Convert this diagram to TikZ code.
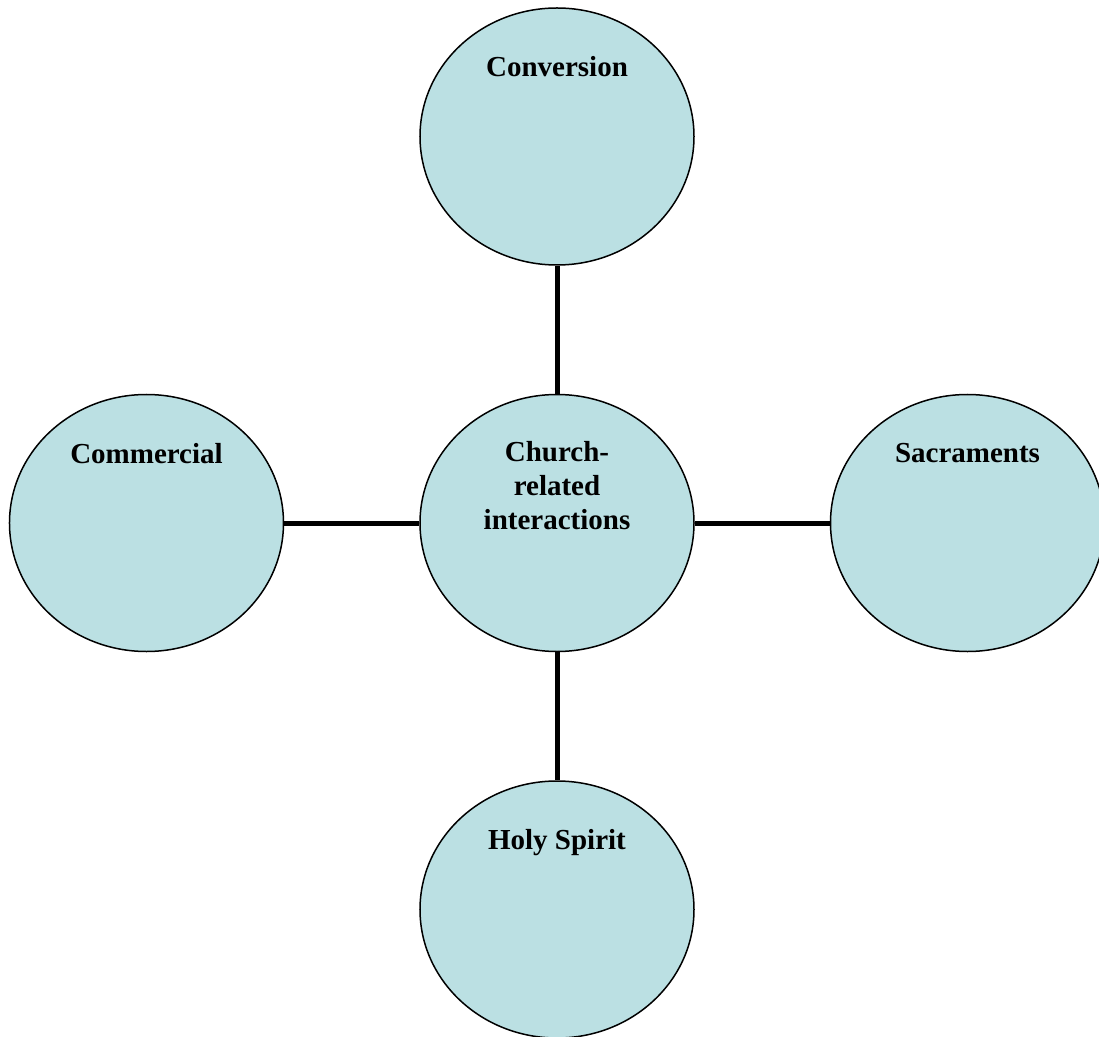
\documentclass[tikz,border=0pt]{standalone}
\usepackage{fontspec}
\setmainfont{Liberation Serif}
\usepackage{tikz}
\usetikzlibrary{shapes.geometric,positioning}
\definecolor{bubblefill}{RGB}{187,224,227}

\begin{document}
\begin{tikzpicture}[align=center,
        node distance=128pt and 135pt,
        bubble/.style={ellipse, draw, line width=1.5pt, fill=bubblefill, minimum width=274pt, minimum height=257pt, inner sep=0pt},
        caption/.style={font=\fontsize{29}{34}\selectfont\bfseries, inner sep=0pt, anchor=north},
        link/.style={line width=5pt}]
        \useasboundingbox (-557pt,-513pt) rectangle (542pt,523pt);
        % Place nodes
        \node [bubble] (church) {};
        \node [bubble, above=of church] (conversion) {};
        \node [bubble, left=of church] (commercial) {};
        \node [bubble, right=of church] (sacraments) {};
        \node [bubble, below=of church] (spirit) {};

        % Labels near the top of each bubble
        \node [caption, below=47pt of church.north] (churchtext) {Church-\\related\\interactions};
        \node [caption, below=49pt of conversion.north] (conversiontext) {Conversion};
        \node [caption, below=49pt of commercial.north] (commercialtext) {Commercial};
        \node [caption, below=49pt of sacraments.north] (sacramentstext) {Sacraments};
        \node [caption, below=49pt of spirit.north] (spirittext) {Holy Spirit};

        % Draw edges
        \draw [link] (church) -- (conversion);
        \draw [link] (church) -- (commercial);
        \draw [link] (church) -- (sacraments);
        \draw [link] (church) -- (spirit);
    \end{tikzpicture}
\end{document}
